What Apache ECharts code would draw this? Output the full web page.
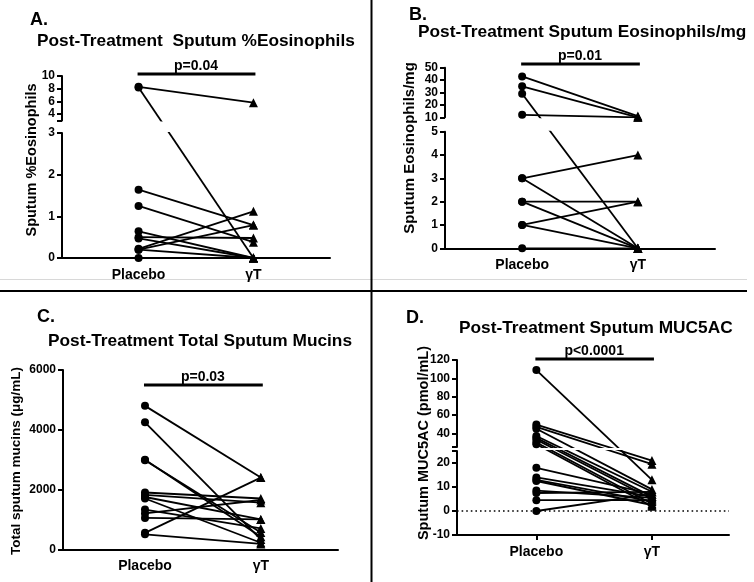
<!DOCTYPE html>
<html><head><meta charset="utf-8">
<script src="https://cdn.jsdelivr.net/npm/echarts@6/dist/echarts.min.js"></script>
<style>html,body{margin:0;padding:0;background:#fff}#c{width:754px;height:582px}</style>
</head><body><div id="c"></div>
<script>
// ---------- data ----------
const groups = ['Placebo', 'γT'];
const groupX = [1, 2.5];

// A: Sputum %Eosinophils
const placeboA = [8.3, 8.2, 1.64, 1.25, 0.64, 0.5, 0.47, 0.22, 0.2, 0.2, 0];
const gammaA   = [5.8, 0, 0.79, 0.38, 0, 0.48, 0, 1.12, 0.79, 0, 0];
const labelsA_upper = [4, 6, 8, 10];
const labelsA_lower = [0, 1, 2, 3];

// B: Sputum Eosinophils/mg
const placeboB = [43, 35, 29, 12, 3, 3, 2, 2, 1, 1, 0];
const gammaB   = [11, 10, 0, 10, 4, 0, 2, 0, 2, 0, 0];
const labelsB_upper = [10, 20, 30, 40, 50];
const labelsB_lower = [0, 1, 2, 3, 4, 5];

// C: Total sputum mucins
const placeboC = [4800, 4250, 3000, 2980, 1900, 1820, 1750, 1700, 1330, 1200, 1050, 550, 500];
const gammaC   = [2400, 330, 420, 560, 1700, 1560, 1000, 220, 700, 1650, 1000, 2400, 180];
const labelsC  = [0, 2000, 4000, 6000];

// D: Sputum MUC5AC
const placeboD = [109, 49.5, 47, 45, 37, 35, 33, 30, 28, 18, 14, 13, 12.5, 8.5, 7.5, 4.5, 0];
const gammaD   = [13, 21, 19.5, 9, 8, 6, 5, 3, 2, 7, 6, 4, 2.5, 5.5, 8, 4.5, 7];
const labelsD_upper = [40, 60, 80, 100, 120];
const labelsD_lower = [-10, 0, 10, 20];

// ---------- layout ----------
const FONT = '"Liberation Sans", Arial, sans-serif';
const panels = [
  {letter:'A.', letterPos:[30,20], title:'Post-Treatment  Sputum %Eosinophils', titlePos:[37,41],
   yName:'Sputum %Eosinophils', yNamePos:[32,160], yNameSize:14.5, p:'p=0.04', pBarY:74, pTextY:66,
   placebo:placeboA, gamma:gammaA, left:62, width:268, xMin:0, xMax:3.5, xTicks:false,
   segs:[{top:76, height:44.5, min:3, max:10, labels:labelsA_upper, ticks:[3].concat(labelsA_upper)},
         {top:133, height:125, min:0, max:3, labels:labelsA_lower, ticks:labelsA_lower}]},
  {letter:'B.', letterPos:[409,15], title:'Post-Treatment Sputum Eosinophils/mg', titlePos:[418,32],
   yName:'Sputum Eosinophils/mg', yNamePos:[410,148], yNameSize:15, p:'p=0.01', pBarY:64, pTextY:56,
   placebo:placeboB, gamma:gammaB, left:445, width:270, xMin:0, xMax:3.5, xTicks:false,
   segs:[{top:67.7, height:49.6, min:10, max:50, labels:labelsB_upper, ticks:labelsB_upper},
         {top:131.7, height:116.6, min:0, max:5, labels:labelsB_lower, ticks:labelsB_lower}]},
  {letter:'C.', letterPos:[37,317], title:'Post-Treatment Total Sputum Mucins', titlePos:[48,341],
   yName:'Total sputum mucins (μg/mL)', yNamePos:[16,461], yNameSize:13.5, p:'p=0.03', pBarY:385, pTextY:377,
   placebo:placeboC, gamma:gammaC, left:63, width:275, xMin:-0.062, xMax:3.5, xTicks:false,
   segs:[{top:370, height:179.3, min:0, max:6000, labels:labelsC, ticks:labelsC}]},
  {letter:'D.', letterPos:[406,318], title:'Post-Treatment Sputum MUC5AC', titlePos:[459,328],
   yName:'Sputum MUC5AC (pmol/mL)', yNamePos:[424,443], yNameSize:14.5, p:'p<0.0001', pBarY:359, pTextY:351,
   placebo:placeboD, gamma:gammaD, left:457, width:272, xMin:-0.03, xMax:3.5, xTicks:true, zeroLine:true,
   segs:[{top:360, height:87, min:25, max:120, labels:labelsD_upper, ticks:[25].concat(labelsD_upper)},
         {top:451, height:84, min:-10, max:25, labels:labelsD_lower, ticks:labelsD_lower.concat([25])}]}
];

function groupLabel(v) {
  for (let i = 0; i < groupX.length; i++) if (Math.abs(groupX[i] - v) < 1e-6) return groups[i];
  return '';
}

const chart = echarts.init(document.getElementById('c'), null, {renderer:'canvas', width:754, height:582});

const grids = [], xAxes = [], yAxes = [];
let gi = 0;
panels.forEach(p => {
  p.gridIdx = [];
  p.segs.forEach((s, k) => {
    const isBottom = k === p.segs.length - 1;
    grids.push({left:p.left, top:s.top, width:p.width, height:s.height, containLabel:false, outerBoundsMode:'none'});
    xAxes.push({gridIndex:gi, type:'value', min:p.xMin, max:p.xMax, show:isBottom,
      axisLine:{show:true, onZero:false, lineStyle:{color:'#000', width:2}},
      axisTick:{show:!!p.xTicks, customValues:groupX, length:5, lineStyle:{color:'#000', width:2}},
      axisLabel:{customValues:groupX, formatter:groupLabel, color:'#000', fontWeight:'bold', fontSize:14, fontFamily:FONT, margin:10},
      splitLine:{show:false}});
    yAxes.push({gridIndex:gi, type:'value', min:s.min, max:s.max,
      axisLine:{show:true, onZero:false, lineStyle:{color:'#000', width:2}},
      axisTick:{show:true, customValues:s.ticks, length:5, lineStyle:{color:'#000', width:2}},
      axisLabel:{customValues:s.labels, formatter:v => String(v), color:'#000', fontWeight:'bold', fontSize:12, fontFamily:FONT, margin:7},
      splitLine:{show:false}});
    p.gridIdx.push(gi);
    gi++;
  });
});

chart.setOption({animation:false, backgroundColor:'#fff', grid:grids, xAxis:xAxes, yAxis:yAxes, series:[]});

function segOf(p, v) {
  if (p.segs.length === 1) return 0;
  return v <= p.segs[1].max ? 1 : 0;
}

const series = [];
const graphics = [];
panels.forEach(p => {
  p.placebo.forEach((yp, i) => {
    const yg = p.gamma[i];
    const pts = [
      {x:groupX[0], y:yp, seg:segOf(p, yp), sym:'circle', size:8},
      {x:groupX[1], y:yg, seg:segOf(p, yg), sym:'triangle', size:9}
    ];
    const used = pts[0].seg === pts[1].seg ? [pts[0].seg] : [pts[0].seg, pts[1].seg];
    used.forEach(k => {
      const g = p.gridIdx[k];
      const data = pts.map(pt => {
        if (pt.seg === k) return {value:[pt.x, pt.y], symbol:pt.sym, symbolSize:pt.size};
        const px = chart.convertToPixel({gridIndex:p.gridIdx[pt.seg]}, [pt.x, pt.y]);
        const v = chart.convertFromPixel({gridIndex:g}, px);
        return {value:[pt.x, v[1]], symbol:'none'};
      });
      series.push({type:'line', xAxisIndex:g, yAxisIndex:g, data:data, clip:true, silent:true,
        lineStyle:{color:'#000', width:1.8}, itemStyle:{color:'#000'}, z:3});
    });
  });
  if (p.zeroLine) {
    const g = p.gridIdx[p.gridIdx.length - 1];
    series.push({type:'line', xAxisIndex:g, yAxisIndex:g, data:[[p.xMin, 0], [p.xMax, 0]], symbol:'none', silent:true,
      lineStyle:{color:'#000', width:1.6, type:[1.6, 3]}, z:2});
  }
  // p-value bar
  const g0 = p.gridIdx[0];
  const a = chart.convertToPixel({gridIndex:g0}, [groupX[0], p.segs[0].max]);
  const b = chart.convertToPixel({gridIndex:g0}, [groupX[1], p.segs[0].max]);
  graphics.push({type:'line', shape:{x1:a[0] - 1, y1:p.pBarY, x2:b[0] + 2, y2:p.pBarY}, style:{stroke:'#000', lineWidth:3}});
  graphics.push({type:'text', x:(a[0] + b[0]) / 2, y:p.pTextY, style:{text:p.p, fill:'#000', font:'bold 14px ' + FONT, align:'center', verticalAlign:'middle'}});
  // letter & title
  graphics.push({type:'text', x:p.letterPos[0], y:p.letterPos[1], style:{text:p.letter, fill:'#000', font:'bold 18px ' + FONT, align:'left', verticalAlign:'middle'}});
  graphics.push({type:'text', x:p.titlePos[0], y:p.titlePos[1], style:{text:p.title, fill:'#000', font:'bold 17.3px ' + FONT, align:'left', verticalAlign:'middle'}});
  // y axis title
  graphics.push({type:'text', x:p.yNamePos[0], y:p.yNamePos[1], rotation:Math.PI / 2, style:{text:p.yName, fill:'#000', font:'bold ' + p.yNameSize + 'px ' + FONT, align:'center', verticalAlign:'middle'}});
});
// panel dividers
graphics.push({type:'line', shape:{x1:0, y1:279.5, x2:747, y2:279.5}, style:{stroke:'#d8d8d8', lineWidth:1}});
graphics.push({type:'line', shape:{x1:371.5, y1:0, x2:371.5, y2:582}, style:{stroke:'#000', lineWidth:2}});
graphics.push({type:'line', shape:{x1:0, y1:291, x2:747, y2:291}, style:{stroke:'#000', lineWidth:2}});

chart.setOption({series:series, graphic:graphics});
</script>
</body></html>
